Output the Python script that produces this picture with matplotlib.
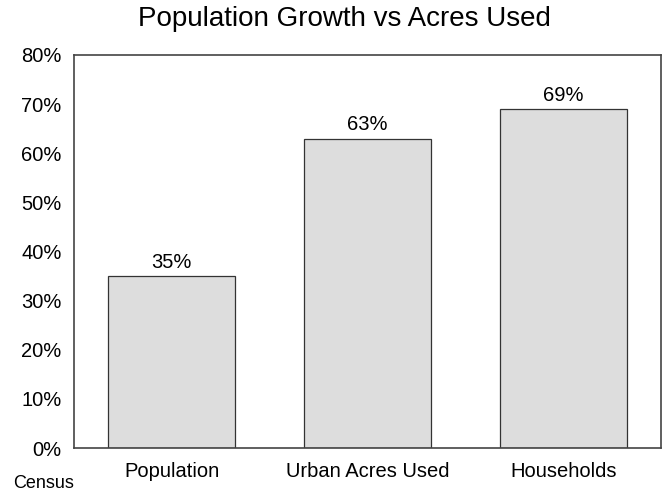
import matplotlib.pyplot as plt
from matplotlib.ticker import PercentFormatter

plt.rcParams['font.family'] = ['Liberation Sans', 'DejaVu Sans']

categories = ["Population", "Urban Acres Used", "Households"]
growth = [35, 63, 69]

fig = plt.figure(figsize=(6.63, 4.92), dpi=100)
ax = fig.add_axes([74 / 663, 1 - 448 / 492, 587 / 663, 393 / 492])

x = range(len(categories))
bars = ax.bar(x, growth, width=0.65, color="#dddddd", edgecolor="#333333", linewidth=0.9)
for b, v in zip(bars, growth):
    ax.text(b.get_x() + b.get_width() / 2, v + 0.9, f"{v}%", ha="center", va="bottom", fontsize=14.5)

ax.set_xlim(-0.5, 2.5)
ax.set_ylim(0, 80)
ax.set_yticks(range(0, 81, 10))
ax.yaxis.set_major_formatter(PercentFormatter(decimals=0))
ax.set_xticks(list(x))
ax.set_xticklabels(categories)
ax.tick_params(length=0, labelsize=14.5)
ax.tick_params(axis="y", pad=9)
ax.tick_params(axis="x", pad=10)
for s in ax.spines.values():
    s.set_color("#444444")
    s.set_linewidth(1.2)

fig.text(344 / 663, 1 - 26 / 492, "Population Growth vs Acres Used", ha="center", va="baseline", fontsize=20)
fig.text(13 / 663, 1 - 488 / 492, "Census", ha="left", va="baseline", fontsize=13)

fig.savefig("out.png")
